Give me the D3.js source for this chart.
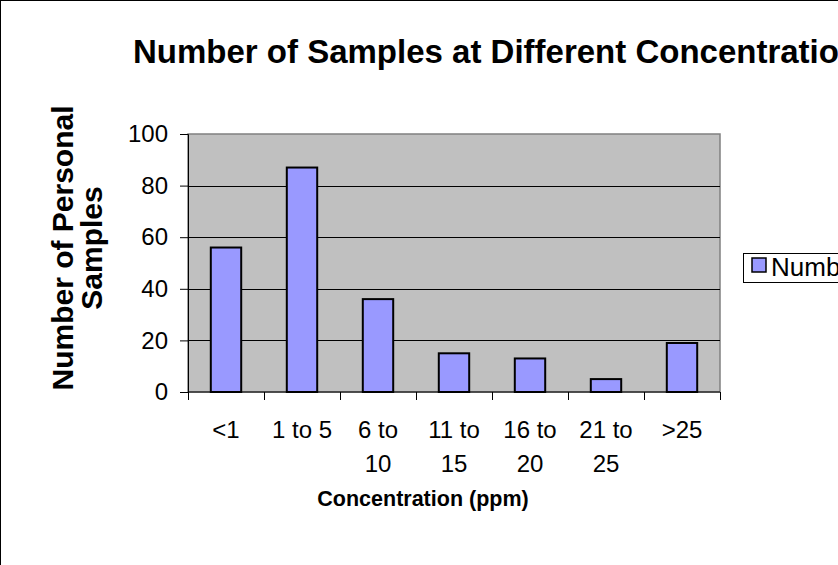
<!DOCTYPE html>
<html>
<head>
<meta charset="utf-8">
<script src="https://cdn.jsdelivr.net/npm/d3@7"></script>
<style>
  html, body { margin: 0; padding: 0; background: #fff; }
  svg { display: block; font-family: Arial, "Liberation Sans", sans-serif; }
</style>
</head>
<body>
<svg id="chart" width="838" height="565"></svg>
<script>
// Concentration bins (ppm) and number of personal samples in each
const categories = ["<1", "1 to 5", "6 to 10", "11 to 15", "16 to 20", "21 to 25", ">25"];
const sampleCounts = [56, 87, 36, 15, 13, 5, 19];
const yTicks = [0, 20, 40, 60, 80, 100];
const seriesName = "Number of Samples";
const chartTitle = "Number of Samples at Different Concentrations";
const xTitle = "Concentration (ppm)";
const yTitleLines = ["Number of Personal", "Samples"];

const svg = d3.select("#chart");

// chart area frame (runs off the right and bottom of the view)
svg.append("rect")
  .attr("x", 0.5).attr("y", 0.5)
  .attr("width", 1000).attr("height", 1000)
  .attr("fill", "#fff").attr("stroke", "#000").attr("stroke-width", 1);

const plot = { left: 188, right: 720, top: 134, bottom: 392 };

const x = d3.scaleBand()
  .domain(categories)
  .range([plot.left, plot.right])
  .paddingInner(0.6)
  .paddingOuter(0.3);

const xCat = d3.scaleBand()
  .domain(categories)
  .range([plot.left, plot.right]);

const y = d3.scaleLinear()
  .domain([0, 100])
  .range([plot.bottom, plot.top]);

// plot background
svg.append("rect")
  .attr("x", plot.left).attr("y", plot.top)
  .attr("width", plot.right - plot.left).attr("height", plot.bottom - plot.top)
  .attr("fill", "#c0c0c0").attr("stroke", "#808080").attr("stroke-width", 1.5);

// horizontal gridlines
svg.append("g")
  .selectAll("line")
  .data(yTicks.filter(t => t > 0 && t < 100))
  .join("line")
  .attr("x1", plot.left).attr("x2", plot.right)
  .attr("y1", d => Math.round(y(d)) + 0.5).attr("y2", d => Math.round(y(d)) + 0.5)
  .attr("stroke", "#000").attr("stroke-width", 1);

// bars
svg.append("g")
  .selectAll("rect")
  .data(categories.map((c, i) => ({ c, v: sampleCounts[i] })))
  .join("rect")
  .attr("x", d => x(d.c))
  .attr("y", d => y(d.v))
  .attr("width", x.bandwidth())
  .attr("height", d => y(0) - y(d.v))
  .attr("fill", "#9999ff")
  .attr("stroke", "#000")
  .attr("stroke-width", 2);

// y axis
const yAxis = svg.append("g")
  .attr("transform", `translate(${plot.left},0)`)
  .call(d3.axisLeft(y).tickValues(yTicks).tickSize(8).tickPadding(12));
yAxis.select(".domain").attr("stroke", "#000");
yAxis.selectAll(".tick line").attr("stroke", "#000");
yAxis.selectAll(".tick text")
  .attr("font-size", 24).attr("fill", "#000")
  .attr("font-family", "Arial, 'Liberation Sans', sans-serif");

// x axis: ticks on category boundaries, labels in category centres
const xAxisG = svg.append("g").attr("transform", `translate(0,${plot.bottom})`);
xAxisG.append("line")
  .attr("x1", plot.left).attr("x2", plot.right)
  .attr("y1", 0).attr("y2", 0).attr("stroke", "#000");
const bounds = categories.map(c => xCat(c)).concat([plot.right]);
xAxisG.selectAll("line.tk")
  .data(bounds)
  .join("line").attr("class", "tk")
  .attr("x1", d => Math.round(d) + 0.5).attr("x2", d => Math.round(d) + 0.5)
  .attr("y1", 0).attr("y2", 8).attr("stroke", "#000");

// labels wrap onto a second line after "to" when they do not fit
const labelLines = c => {
  const parts = c.split(" ");
  if (parts.length === 3 && parts[0] !== "1") return [parts[0] + " " + parts[1], parts[2]];
  return [c];
};
const xl = xAxisG.selectAll("text.xl")
  .data(categories)
  .join("text").attr("class", "xl")
  .attr("x", d => xCat(d) + xCat.bandwidth() / 2)
  .attr("y", 46)
  .attr("text-anchor", "middle")
  .attr("font-size", 24)
  .attr("fill", "#000");
xl.selectAll("tspan")
  .data(d => labelLines(d).map(t => ({ t, x: xCat(d) + xCat.bandwidth() / 2 })))
  .join("tspan")
  .attr("x", d => d.x)
  .attr("dy", (d, i) => i === 0 ? 0 : 34)
  .text(d => d.t);

// axis titles
svg.append("text")
  .attr("x", 423)
  .attr("y", 506)
  .attr("text-anchor", "middle")
  .attr("font-size", 21.5).attr("font-weight", "bold")
  .text(xTitle);

const yt = svg.append("text")
  .attr("transform", `translate(73,248) rotate(-90)`)
  .attr("text-anchor", "middle")
  .attr("font-size", 30).attr("font-weight", "bold");
yt.selectAll("tspan")
  .data(yTitleLines)
  .join("tspan")
  .attr("x", 0)
  .attr("dy", (d, i) => i === 0 ? 0 : 29)
  .text(d => d);

// chart title
svg.append("text")
  .attr("x", 133)
  .attr("y", 63)
  .attr("font-size", 33).attr("font-weight", "bold")
  .text(chartTitle);

// legend
const lg = svg.append("g").attr("transform", "translate(743,253)");
lg.append("rect")
  .attr("x", 0.5).attr("y", 0.5).attr("width", 200).attr("height", 29)
  .attr("fill", "#fff").attr("stroke", "#000");
lg.append("rect")
  .attr("x", 9).attr("y", 5).attr("width", 14).attr("height", 14)
  .attr("fill", "#9999ff").attr("stroke", "#000").attr("stroke-width", 1.5);
lg.append("text")
  .attr("x", 28).attr("y", 23)
  .attr("font-size", 26)
  .text(seriesName);
</script>
</body>
</html>
